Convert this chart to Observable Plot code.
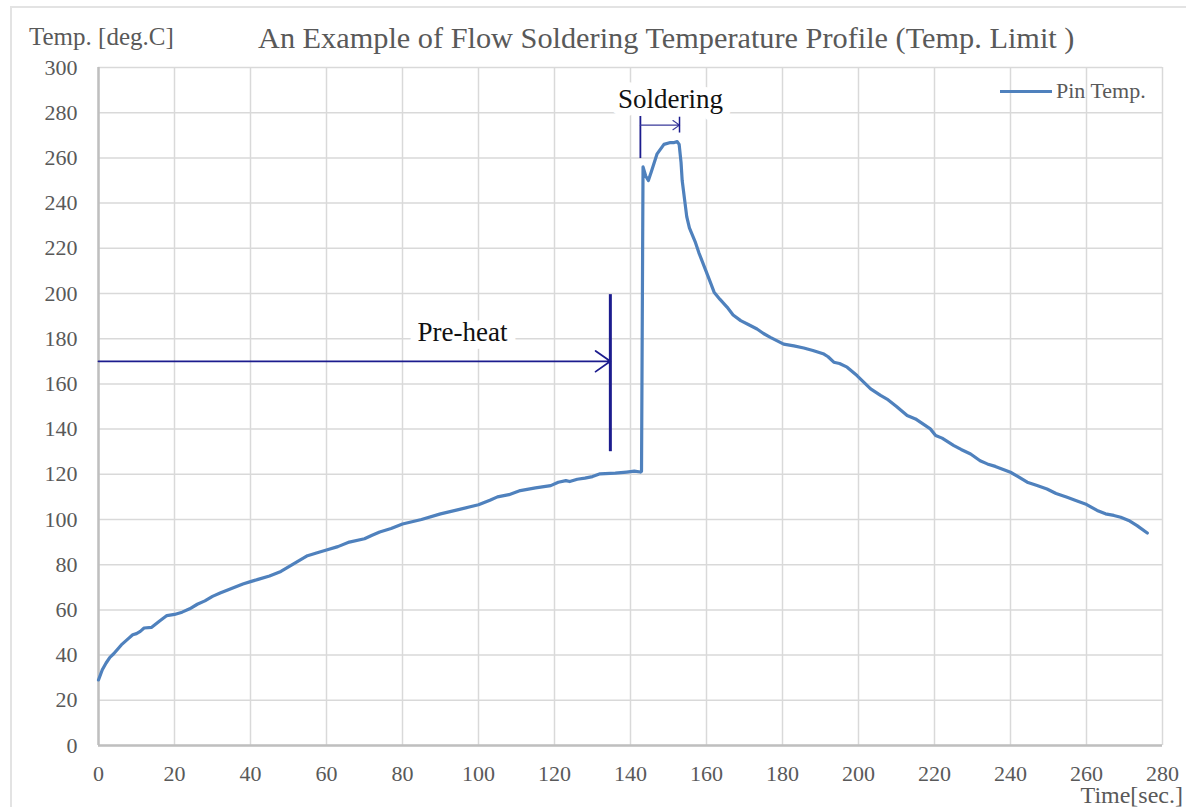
<!DOCTYPE html>
<html>
<head>
<meta charset="utf-8">
<script src="https://cdn.jsdelivr.net/npm/d3@7"></script>
<script src="https://cdn.jsdelivr.net/npm/@observablehq/plot@0.6"></script>
<style>
  body { margin: 0; background: #fff; font-family: "Liberation Serif", "Times New Roman", serif; }
  #wrap { position: relative; width: 1186px; height: 807px; overflow: hidden; background: #fff; }
  #frame { position: absolute; left: 10px; top: 6px; width: 1300px; height: 900px;
           border-left: 2px solid #e3e3e3; border-top: 2px solid #e3e3e3; pointer-events: none; }
  #head { position: relative; height: 50px; }
  .abs { position: absolute; white-space: nowrap; color: #595959; }
  #ylab { left: 29px; top: 24px; font-size: 25px; line-height: 25px; }
  #title { left: 258px; top: 23px; font-size: 30.3px; line-height: 30px; }
  #legend { left: 1000px; top: 80px; font-size: 22px; line-height: 22px; display: flex; align-items: center; }
  #legend .sw { display: inline-block; width: 52px; height: 0; border-top: 3px solid #4f81bd; margin-right: 4px; }
  #xlab { right: 3px; top: 786px; font-size: 24px; line-height: 18px; }
  #chart svg { display: block; }
</style>
</head>
<body>
<div id="wrap">
  <div id="frame"></div>
  <div id="head">
    <div class="abs" id="ylab">Temp. [deg.C]</div>
    <div class="abs" id="title">An Example of Flow Soldering Temperature Profile (Temp. Limit )</div>
  </div>
  <div id="chart"></div>
  <div class="abs" id="legend"><span class="sw"></span><span>Pin Temp.</span></div>
  <div class="abs" id="xlab">Time[sec.]</div>
</div>
<script>
// ---- data: time [sec.] and pin temperature [deg.C] ----
const time = [
  0, 1, 2, 3, 4, 6, 8, 9, 10, 11, 12, 14, 16, 18, 20, 22, 24, 26, 28, 30,
  32, 35, 38, 40, 42, 45, 48, 50, 52, 55, 58, 60, 63, 66, 70, 72, 74, 77, 80, 85,
  90, 95, 100, 103, 105, 108, 111, 115, 119, 121, 123, 124, 126, 128, 130, 132, 136, 139, 141, 142.6,
  142.9, 143.3, 144.0, 144.7, 145.5, 147, 148.8, 150.5, 151.5, 152.3, 152.8, 153.3, 153.6, 154.2, 154.8, 155.5, 157, 158, 159.8, 161,
  162, 163.5, 165.4, 167, 169, 171, 173.3, 175, 176.8, 180.3, 183, 185.6, 188, 190.9, 192, 193.5, 195, 197, 199.6, 203.2,
  205.8, 207.5, 210, 212.8, 215, 218.9, 220.3, 222, 225.1, 227, 229.5, 232, 233.9, 236, 240, 242, 244.4, 247, 249.6, 252,
  254.9, 257, 259.7, 262.8, 265, 267.2, 269, 271.1, 273.3, 276
];
const pinTemp = [
  29, 33.5, 36.5, 39, 40.6, 44.5, 47.5, 49, 49.5, 50.5, 52, 52.3, 55, 57.5, 58, 59, 60.5, 62.5, 64, 66,
  67.5, 69.5, 71.5, 72.5, 73.5, 75, 77, 79, 81, 84, 85.5, 86.5, 88, 90, 91.5, 93, 94.5, 96, 98, 100,
  102.5, 104.5, 106.5, 108.5, 110, 111, 112.8, 114, 115, 116.5, 117.2, 116.8, 117.8, 118.3, 119, 120.2, 120.5, 121, 121.4, 121,
  121.3, 256, 252, 250, 254, 261.8, 266, 266.8, 266.8, 267.2, 266, 258, 250, 242, 234, 229, 223, 218, 210.2, 205,
  200.6, 197.5, 194, 190.5, 188, 186.3, 184.3, 182.3, 180.6, 177.6, 176.8, 175.9, 174.8, 173.2, 172, 169.6, 169, 167.4, 163.7, 157.8,
  154.9, 153.3, 150, 146, 144.5, 140.1, 137.2, 136, 132.7, 131, 129, 126, 124.6, 123.5, 120.9, 119, 116.5, 115, 113.5, 111.5,
  109.8, 108.5, 106.9, 104, 102.5, 101.8, 101, 99.6, 97.3, 94
];
const xTicks = [0, 20, 40, 60, 80, 100, 120, 140, 160, 180, 200, 220, 240, 260, 280];
const yTicks = [0, 20, 40, 60, 80, 100, 120, 140, 160, 180, 200, 220, 240, 260, 280, 300];

// ---- annotations (data units) ----
const preheatSpan = [0, 134.7];     // time range of pre-heat arrow
const preheatLevel = 170;           // temperature of arrow
const preheatBar = [130, 199.5];    // vertical marker extent
const solderSpan = [142.6, 152.9];  // time range of soldering arrow
const solderLevel = 274.5;
const solderBar = [259.7, 279.6];
const solderEndTick = [271, 278];
const noteLabels = ["Pre-heat", "Soldering"];
const noteTimes = [95.8, 150.5];
const noteTemps = [183, 285.8];

const series = time.map((t, i) => ({t, temp: pinTemp[i]}));
const notes = noteLabels.map((label, i) => ({label, t: noteTimes[i], temp: noteTemps[i]}));

const navy = "#1c1c8e";
const blue = "#4f81bd";

const chart = Plot.plot({
  width: 1186,
  height: 757,
  marginTop: 17,
  marginLeft: 98,
  marginRight: 24,
  marginBottom: 62,
  style: {fontFamily: "'Liberation Serif', 'Times New Roman', serif", fontSize: "22px", color: "#595959", background: "transparent"},
  x: {domain: [0, 280]},
  y: {domain: [0, 300]},
  marks: [
    Plot.gridX(xTicks, {stroke: "#d9d9d9", strokeOpacity: 1, strokeWidth: 1.5}),
    Plot.gridY(yTicks, {stroke: "#d9d9d9", strokeOpacity: 1, strokeWidth: 1.5}),
    Plot.axisX(xTicks, {tickSize: 0, tickPadding: 20, label: null, fill: "#595959"}),
    Plot.axisY(yTicks, {tickSize: 0, tickPadding: 21, label: null, fill: "#595959"}),
    Plot.ruleX([0], {stroke: "#bfbfbf", strokeWidth: 2.5}),
    Plot.ruleY([0], {stroke: "#bfbfbf", strokeWidth: 2.5}),
    // pre-heat
    Plot.arrow([{}], {x1: preheatSpan[0], x2: preheatSpan[1], y1: preheatLevel, y2: preheatLevel,
      stroke: navy, strokeWidth: 1.8, headLength: 15, headAngle: 70}),
    Plot.ruleX([preheatSpan[1]], {y1: preheatBar[0], y2: preheatBar[1], stroke: navy, strokeWidth: 3}),
    // soldering
    Plot.ruleX([solderSpan[0]], {y1: solderBar[0], y2: solderBar[1], stroke: navy, strokeWidth: 1.8}),
    Plot.arrow([{}], {x1: solderSpan[0], x2: solderSpan[1], y1: solderLevel, y2: solderLevel,
      stroke: "#3a3a9a", strokeWidth: 1.2, headLength: 10, headAngle: 70}),
    Plot.ruleX([solderSpan[1]], {y1: solderEndTick[0], y2: solderEndTick[1], stroke: navy, strokeWidth: 1.5}),
    // labels with white background halo
    Plot.text(notes, {x: "t", y: "temp", text: "label", fontSize: 27, fill: "#111",
      stroke: "white", strokeWidth: 16}),
    // temperature profile
    Plot.line(series, {x: "t", y: "temp", stroke: blue, strokeWidth: 3.2, strokeLinejoin: "round"})
  ]
});
document.getElementById("chart").appendChild(chart);
</script>
</body>
</html>
